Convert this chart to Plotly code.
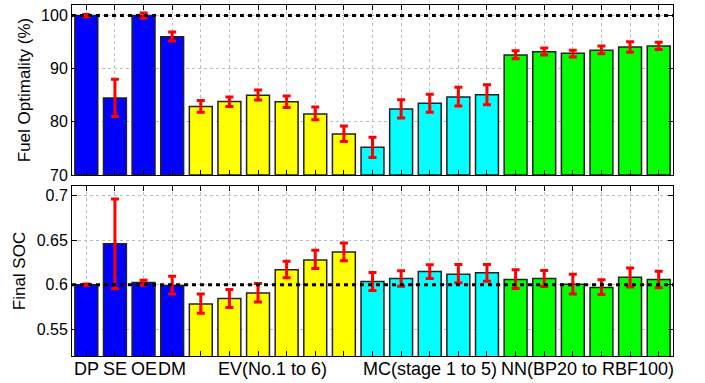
import plotly.graph_objects as go

# ---- data ----
methods = ["DP", "SE", "OE", "DM",
           "EV1", "EV2", "EV3", "EV4", "EV5", "EV6",
           "MC1", "MC2", "MC3", "MC4", "MC5",
           "NN1", "NN2", "NN3", "NN4", "NN5", "NN6"]
bar_colors = ["#0000ff"] * 4 + ["#ffff00"] * 6 + ["#00ffff"] * 5 + ["#00ff00"] * 6

fuel = [100.0, 84.5, 100.0, 96.0,
        82.9, 83.85, 85.0, 83.8, 81.5, 77.7,
        75.2, 82.4, 83.5, 84.7, 85.1,
        92.6, 93.2, 92.9, 93.5, 94.1, 94.3]
fuel_hi = [100.2, 88.0, 100.5, 96.9,
           84.0, 84.7, 86.0, 84.85, 82.8, 79.2,
           77.1, 84.15, 85.2, 86.5, 87.0,
           93.4, 93.9, 93.5, 94.3, 95.1, 95.0]
fuel_lo = [99.8, 81.0, 99.5, 95.2,
           81.8, 82.9, 84.1, 82.7, 80.4, 76.3,
           73.3, 80.75, 81.8, 83.0, 83.2,
           91.9, 92.6, 92.2, 92.8, 93.1, 93.6]

soc = [0.600, 0.646, 0.6026, 0.5993,
       0.5784, 0.5847, 0.5907, 0.6168, 0.628, 0.6369,
       0.6037, 0.6071, 0.6149, 0.6119, 0.6134,
       0.606, 0.6071, 0.6007, 0.597, 0.6086, 0.606]
soc_hi = [0.6008, 0.6963, 0.6052, 0.6097,
          0.5896, 0.5948, 0.6015, 0.6265, 0.6388, 0.647,
          0.6138, 0.6157, 0.6224, 0.6228, 0.6228,
          0.6168, 0.616, 0.6119, 0.6056, 0.619, 0.6153]
soc_lo = [0.5992, 0.5955, 0.5996, 0.5896,
          0.5679, 0.5746, 0.5806, 0.6078, 0.6183, 0.6269,
          0.5937, 0.5985, 0.6071, 0.6022, 0.6041,
          0.5959, 0.5981, 0.5896, 0.5892, 0.5974, 0.5966]

fuel_ref = 100
soc_ref = 0.6

group_labels = ["DP", "SE", "OE", "DM", "EV(No.1 to 6)", "MC(stage 1 to 5)", "NN(BP20 to RBF100)"]
group_pos = [1, 2, 3, 4, 7.5, 13, 18.5]

fuel_ticks = [70, 80, 90, 100]
soc_ticks = [0.55, 0.6, 0.65, 0.7]

xs = list(range(1, len(methods) + 1))
FONT = "Liberation Sans, Arial, sans-serif"

fig = go.Figure()

fig.add_trace(go.Bar(
    x=xs, y=[f - 70 for f in fuel], base=70,
    marker=dict(color=bar_colors, line=dict(color="#222222", width=1.5)),
    width=0.8,
    error_y=dict(type="data", symmetric=False,
                 array=[h - f for h, f in zip(fuel_hi, fuel)],
                 arrayminus=[f - l for f, l in zip(fuel, fuel_lo)],
                 color="#ff0000", thickness=3, width=4),
    xaxis="x", yaxis="y", showlegend=False))

fig.add_trace(go.Bar(
    x=xs, y=[s - 0.5 for s in soc], base=0.5,
    marker=dict(color=bar_colors, line=dict(color="#222222", width=1.5)),
    width=0.8,
    error_y=dict(type="data", symmetric=False,
                 array=[h - s for h, s in zip(soc_hi, soc)],
                 arrayminus=[s - l for s, l in zip(soc, soc_lo)],
                 color="#ff0000", thickness=3, width=4),
    xaxis="x2", yaxis="y2", showlegend=False))

# reference dashed lines
fig.add_trace(go.Scatter(x=[0.5, 21.5], y=[fuel_ref, fuel_ref], mode="lines",
                         line=dict(color="black", width=3, dash="4px,4px"),
                         xaxis="x", yaxis="y", showlegend=False, hoverinfo="skip"))
fig.add_trace(go.Scatter(x=[0.5, 21.5], y=[soc_ref, soc_ref], mode="lines",
                         line=dict(color="black", width=3, dash="4px,4px"),
                         xaxis="x2", yaxis="y2", showlegend=False, hoverinfo="skip"))

axis_common = dict(showline=True, linecolor="black", linewidth=1, mirror="ticks",
                   ticks="inside", ticklen=5, tickcolor="black",
                   showgrid=True, gridcolor="#bdbdbd", griddash="dot", gridwidth=1,
                   zeroline=False, tickfont=dict(family=FONT, size=16, color="black"))

fig.update_layout(
    width=705, height=383,
    margin=dict(l=72, r=32, t=5, b=27),
    paper_bgcolor="white", plot_bgcolor="white",
    bargap=0.2,
    xaxis=dict(domain=[0, 1], range=[0.5, 21.5], tickvals=xs, showticklabels=False,
               anchor="y", **axis_common),
    yaxis=dict(domain=[0.5157, 1], range=[70, 102], tickvals=fuel_ticks,
               title=dict(text="Fuel Optimality (%)", standoff=6,
                          font=dict(family=FONT, size=17, color="black")),
               anchor="x", **axis_common),
    xaxis2=dict(domain=[0, 1], range=[0.5, 21.5], tickvals=xs, showticklabels=False,
                anchor="y2", **axis_common),
    yaxis2=dict(domain=[0, 0.4843], range=[0.52, 0.711], tickvals=soc_ticks,
                ticktext=["0.55", "0.6", "0.65", "0.7"],
                title=dict(text="Final SOC", standoff=6,
                           font=dict(family=FONT, size=17, color="black")),
                anchor="x2", **axis_common),
)

for lab, pos in zip(group_labels, group_pos):
    fig.add_annotation(x=pos, y=0, xref="x2", yref="paper", text=lab, showarrow=False,
                       yanchor="top", yshift=-1,
                       font=dict(family=FONT, size=18, color="black"))

fig.write_html("out.html", config={"displayModeBar": False},
               post_script="document.body.style.margin='0';document.body.style.overflow='hidden';")
